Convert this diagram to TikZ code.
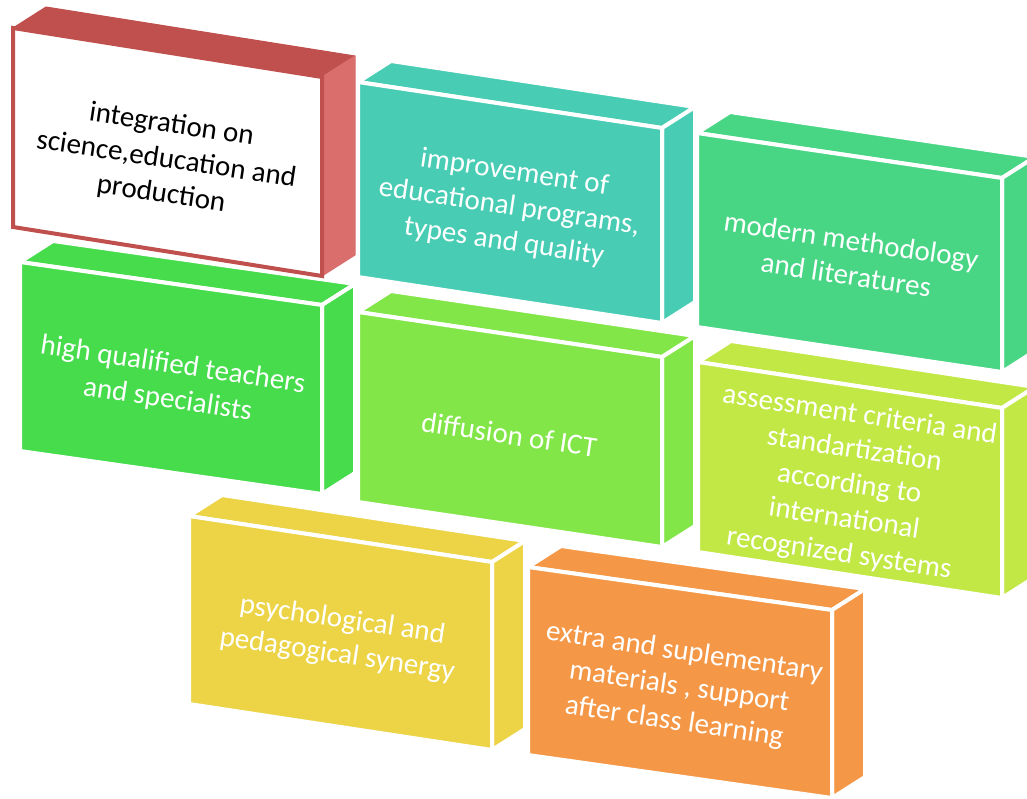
\documentclass[tikz,border=0pt]{standalone}
\usepackage{fontspec}
\setmainfont{Carlito}
\definecolor{redtop}{HTML}{C0504D}
\definecolor{redside}{HTML}{D96E6D}
\definecolor{tqc}{HTML}{48CDB4}
\definecolor{mgc}{HTML}{48D685}
\definecolor{hgc}{HTML}{46DC4C}
\definecolor{lgc}{HTML}{82E648}
\definecolor{ygc}{HTML}{C2E846}
\definecolor{yec}{HTML}{ECD446}
\definecolor{orc}{HTML}{F49848}
\tikzset{
  face/.style={draw=white, line width=4pt, line join=round},
  cf/.style={face, fill=#1},
  redface/.style={draw=#1, fill=#1, line width=1pt, line join=round},
  redfront/.style={draw=redtop, fill=white, line width=4pt, line join=miter},
  lbl/.style={align=center, rotate=-8.5, font=\fontsize{29}{35}\selectfont, text=white, inner sep=0pt, yshift=-5pt},
  lblk/.style={lbl, text=black}
}
\def\dpx{33}
\def\dpz{-21}
% #1 name, #2 x, #3 y, #4 width, #5 slope drop, #6 height, #7 top, #8 side, #9 front
\newcommand\cuboid[9]{%
  \path[#7] (#2,#3) -- ++(\dpx,\dpz) -- ++(#4,#5) -- (#2+#4,#3+#5) -- cycle;
  \path[#8] (#2+#4,#3+#5) -- ++(\dpx,\dpz) -- ++(0,#6) -- (#2+#4,#3+#5+#6) -- cycle;
  \path[#9] (#2,#3) -- (#2+#4,#3+#5) -- (#2+#4,#3+#5+#6) -- (#2,#3+#6) -- cycle;
  \coordinate (#1) at (#2+#4/2, #3+#5/2+#6/2);
}
\begin{document}
\begin{tikzpicture}[x=1pt,y=-1pt]
\useasboundingbox (0,0) rectangle (1027,799);
\fill[white] (0,0) rectangle (1027,799);
% bottom row
\cuboid{c7}{189}{516}{303}{46}{188}{cf=yec}{cf=yec}{cf=yec}
\cuboid{c8}{528}{567}{304}{43}{188}{cf=orc}{cf=orc}{cf=orc}
% middle row
\cuboid{c4}{20}{262}{302}{43}{189}{cf=hgc}{cf=hgc}{cf=hgc}
\cuboid{c5}{358}{312}{304}{45}{190}{cf=lgc}{cf=lgc}{cf=lgc}
\cuboid{c6}{698}{362}{304}{46}{190}{cf=ygc}{cf=ygc}{cf=ygc}
% top row
\cuboid{c1}{13}{28}{309}{49}{199}{redface=redtop}{redface=redside}{redfront}
\cuboid{c2}{358}{82}{304}{46}{195}{cf=tqc}{cf=tqc}{cf=tqc}
\cuboid{c3}{697}{133}{305}{45}{194}{cf=mgc}{cf=mgc}{cf=mgc}
% labels
\node[lblk, yshift=-3pt] (t1) at (c1) {integration on\\science,education and\\production};
\node[lbl] (t2) at (c2) {improvement of\\educational programs,\\types and quality};
\node[lbl] (t3) at (c3) {modern methodology\\and literatures};
\node[lbl] (t4) at (c4) {high qualified teachers\\and specialists};
\node[lbl] (t5) at (c5) {diffusion of ICT};
\node[lbl] (t6) at (c6) {assessment criteria and\\standartization\\according to\\international\\recognized systems};
\node[lbl] (t7) at (c7) {psychological and\\pedagogical synergy};
\node[lbl] (t8) at (c8) {extra and suplementary\\materials , support\\after class learning};
\end{tikzpicture}
\end{document}
